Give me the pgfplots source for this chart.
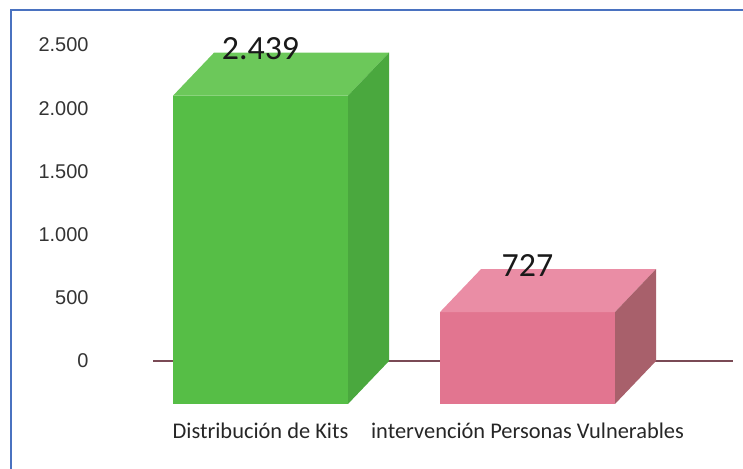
\documentclass[border=0pt]{standalone}
\usepackage{pgfplots}
\pgfplotsset{compat=1.18}
\usepackage{fontspec}
\setmainfont{Carlito}
\newfontfamily\arialf{Liberation Sans}
\definecolor{frameblue}{HTML}{4A72C0}
\definecolor{gfront}{HTML}{56BE46}
\definecolor{gtop}{HTML}{6CC85A}
\definecolor{gside}{HTML}{4AA83E}
\definecolor{pfront}{HTML}{E27590}
\definecolor{ptop}{HTML}{EA8DA5}
\definecolor{pside}{HTML}{A8606B}
\definecolor{basecol}{HTML}{7A4A55}
\definecolor{ticktext}{HTML}{333333}
\begin{document}
\begin{tikzpicture}
\path[use as bounding box] (0,0) rectangle (743bp,469bp);
\draw[frameblue, line width=1.6bp] (11bp,0) -- (11bp,459bp) -- (743bp,459bp);
\begin{axis}[
  at={(153bp,108bp)}, anchor=south west,
  scale only axis, width=580bp, height=316bp,
  xmin=153, xmax=733, ymin=0, ymax=2500,
  clip=false,
  axis line style={draw=none},
  major tick length=0pt,
  ytick={0,500,1000,1500,2000,2500},
  xtick={260.5,527.5},
  xticklabels={Distribución de Kits, intervención Personas Vulnerables},
  /pgf/number format/.cd, 1000 sep={.}, assume math mode=true, /pgfplots/.cd,
  yticklabel style={font=\arialf\fontsize{20}{20}\selectfont, text=ticktext, anchor=east, xshift=-61bp},
  xticklabel style={font=\fontsize{22.5}{22.5}\selectfont, text=black!85, anchor=base, yshift=-78bp},
]
% baseline at zero
\addplot[draw=basecol, line width=1.5bp] coordinates {(153,0) (733,0)};
% green bar: front, top, side
\addplot[draw=none, fill=gfront] coordinates {(173,-340) (348,-340) (348,2099) (173,2099) (173,-340)};
\addplot[draw=none, fill=gtop] coordinates {(173,2099) (214,2439) (389,2439) (348,2099) (173,2099)};
\addplot[draw=none, fill=gside] coordinates {(348,2099) (389,2439) (389,0) (348,-340) (348,2099)};
% pink bar
\addplot[draw=none, fill=pfront] coordinates {(440,-340) (615,-340) (615,387) (440,387) (440,-340)};
\addplot[draw=none, fill=ptop] coordinates {(440,387) (481,727) (656,727) (615,387) (440,387)};
\addplot[draw=none, fill=pside] coordinates {(615,387) (656,727) (656,0) (615,-340) (615,387)};
% value labels
\addplot[draw=none, mark=none, nodes near coords, point meta=explicit symbolic,
  every node near coord/.style={font=\fontsize{34}{34}\selectfont, text=black!90, anchor=base, yshift=-7bp, inner sep=0pt}]
  coordinates {(260.5,2439)[2.439] (527.5,727)[727]};
\end{axis}
\end{tikzpicture}
\end{document}
